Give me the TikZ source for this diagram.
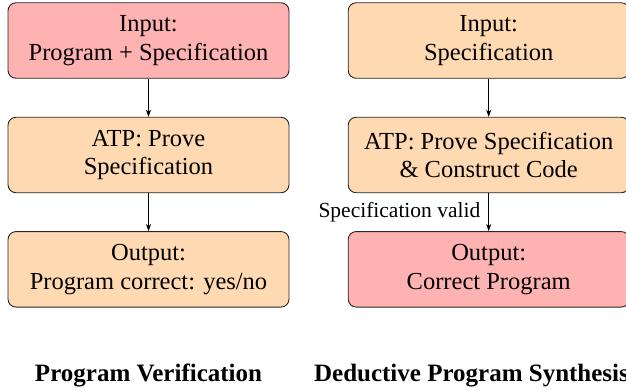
\documentclass[tikz,border=0pt]{standalone}
\usepackage{fontspec}
\setmainfont{Liberation Serif}
\usetikzlibrary{arrows.meta}
\begin{document}
\begin{tikzpicture}[x=1pt,y=1pt,
  box/.style={draw=black!85, line width=0.9pt, rounded corners=8pt, minimum width=281pt, minimum height=75.5pt, align=center, font=\fontsize{24.5}{28.5}\selectfont},
  redbox/.style={box, fill=red!30},
  orbox/.style={box, fill=orange!30},
  arr/.style={-{Stealth[length=7pt,width=5pt,inset=2pt]}, line width=0.8pt},
  ttl/.style={font=\fontsize{25}{28}\selectfont\bfseries, anchor=base},
  lbl/.style={font=\fontsize{21.5}{24}\selectfont, anchor=east, inner sep=0pt, xshift=-8pt}]
\useasboundingbox (0,0) rectangle (626,-389);
\node[redbox] (a1) at (148.5,-40.5) {Input:\\Program + Specification};
\node[orbox] (a2) at (148.5,-155) {ATP: Prove\\Specification};
\node[orbox] (a3) at (148.5,-269.3) {Output:\\Program correct: yes/no};
\node[orbox] (b1) at (488.7,-40.5) {Input:\\Specification};
\node[orbox] (b2) at (488.7,-155) {ATP: Prove Specification\\\& Construct Code};
\node[redbox] (b3) at (488.7,-269.3) {Output:\\Correct Program};
\draw[arr] (a1) -- (a2);
\draw[arr] (a2) -- (a3);
\draw[arr] (b1) -- (b2);
\draw[arr] (b2) -- node[lbl] {Specification valid} (b3);
\node[ttl] (t1) at (148.5,-381) {Program Verification};
\node[ttl] (t2) at (471.5,-381) {Deductive Program Synthesis};
\end{tikzpicture}
\end{document}
